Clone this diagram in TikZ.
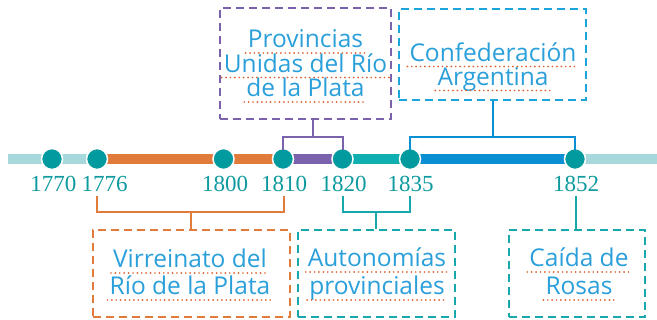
\documentclass[tikz,border=0pt]{standalone}
\usepackage{fontspec}
\newfontfamily\hand{Open Sans}
\newfontfamily\yearfont{Liberation Serif}
\definecolor{lblue}{HTML}{A6D8DC}
\definecolor{orng}{HTML}{E07B3C}
\definecolor{purp}{HTML}{7B62AC}
\definecolor{tealseg}{HTML}{0FAEB1}
\definecolor{bluseg}{HTML}{0A8FD3}
\definecolor{dotc}{HTML}{009A9F}
\definecolor{yearc}{HTML}{0E9A9E}
\definecolor{txtc}{HTML}{2A9FDA}
\definecolor{ulc}{HTML}{E0602A}
\definecolor{confc}{HTML}{1BA6DB}
\definecolor{boxteal}{HTML}{17A8AC}
\begin{document}
\begin{tikzpicture}[x=1pt,y=-1pt,
 seg/.style={line width=10pt},
 dotn/.style={circle, fill=dotc, draw=white, line width=1.5pt, minimum size=21pt, inner sep=0pt},
 year/.style={text=yearc, font=\yearfont\fontsize{23}{23}\selectfont, anchor=base, inner sep=0pt},
 tl/.style={text=txtc, font=\hand\fontsize{24.5}{24.5}\selectfont, anchor=base, inner sep=0pt},
 ul/.style={draw=ulc, line width=1.9pt, line cap=round, dash pattern=on 0pt off 4.4pt},
 dbox/.style={draw, line width=2pt, dash pattern=on 8pt off 5pt, rectangle, inner sep=0pt},
 brk/.style={line width=2pt}]
\useasboundingbox (0,0) rectangle (657,320);
% timeline anchors
\coordinate (tstart) at (8,159);
\coordinate (tend) at (657,159);
\coordinate (p1770) at (52,159);
\coordinate (p1776) at (97,159);
\coordinate (p1800) at (223.5,159);
\coordinate (p1810) at (283,159);
\coordinate (p1820) at (342.5,159);
\coordinate (p1835) at (410,159);
\coordinate (p1852) at (575,159);
% segments
\draw[seg, lblue] (tstart) -- (p1776);
\draw[seg, orng] (p1776) -- (p1810);
\draw[seg, purp] (p1810) -- (p1820);
\draw[seg, tealseg] (p1820) -- (p1835);
\draw[seg, bluseg] (p1835) -- (p1852);
\draw[seg, lblue] (p1852) -- (tend);
% dots
\foreach \y in {1770,1776,1800,1810,1820,1835,1852}{
  \node[dotn] (d\y) at (p\y) {};
}
\node[year] (y1770) at (53.5,192) {1770};
\node[year] (y1776) at (104.5,192) {1776};
\node[year] (y1800) at (225,192) {1800};
\node[year] (y1810) at (284,192) {1810};
\node[year] (y1820) at (343.5,192) {1820};
\node[year] (y1835) at (410.5,192) {1835};
\node[year] (y1852) at (576,192) {1852};
% boxes
\node[dbox, draw=purp, minimum width=171pt, minimum height=111pt] (pbox) at (305.5,63.5) {};
\node[dbox, draw=confc, minimum width=187pt, minimum height=91pt] (cbox) at (492.5,54.5) {};
\node[dbox, draw=orng, minimum width=197pt, minimum height=87pt] (vbox) at (191.5,273.5) {};
\node[dbox, draw=boxteal, minimum width=157pt, minimum height=87pt] (abox) at (376.5,273.5) {};
\node[dbox, draw=boxteal, minimum width=136pt, minimum height=87pt] (rbox) at (577,273.5) {};
% box texts
\node[tl] (p1) at (305.5,48) {Provincias};
\node[tl] (p2) at (305.5,72.5) {Unidas del Río};
\node[tl] (p3) at (305.5,97) {de la Plata};
\node[tl] (c1) at (493,61.5) {Confederación};
\node[tl] (c2) at (493,85.5) {Argentina};
\node[tl] (v1) at (190,268) {Virreinato del};
\node[tl] (v2) at (190,295) {Río de la Plata};
\node[tl] (a1) at (377,267) {Autonomías};
\node[tl] (a2) at (377,295) {provinciales};
\node[tl] (r1) at (579,267) {Caída de};
\node[tl] (r2) at (579,295) {Rosas};
\foreach \n in {p1,p2,p3,c1,c2,v1,v2,a1,a2,r1,r2}{
  \draw[ul] ([xshift=-2pt,yshift=-5pt]\n.base west) -- ([xshift=2pt,yshift=-5pt]\n.base east);
}
% bracket joints
\coordinate (bp) at (312.5,137);
\coordinate (bb) at (492.5,137);
\coordinate (bo) at (191,212.5);
\coordinate (bt) at (376,212.5);
\coordinate (br) at (576,196);
% upper brackets
\draw[brk, purp] ([yshift=-2pt]d1810.north) |- (bp) -| ([yshift=-2pt]d1820.north);
\draw[brk, purp] (bp) -- (bp |- pbox.south);
\draw[brk, bluseg] ([yshift=-2pt]d1835.north) |- (bb) -| ([yshift=-2pt]d1852.north);
\draw[brk, bluseg] (bb) -- (bb |- cbox.south);
% lower brackets
\draw[brk, orng] (97,196) |- (bo) -| (284,196);
\draw[brk, orng] (bo) -- (bo |- vbox.north);
\draw[brk, boxteal] (342.5,196) |- (bt) -| (410,196);
\draw[brk, boxteal] (bt) -- (bt |- abox.north);
\draw[brk, boxteal] (br) -- (br |- rbox.north);
\end{tikzpicture}
\end{document}
